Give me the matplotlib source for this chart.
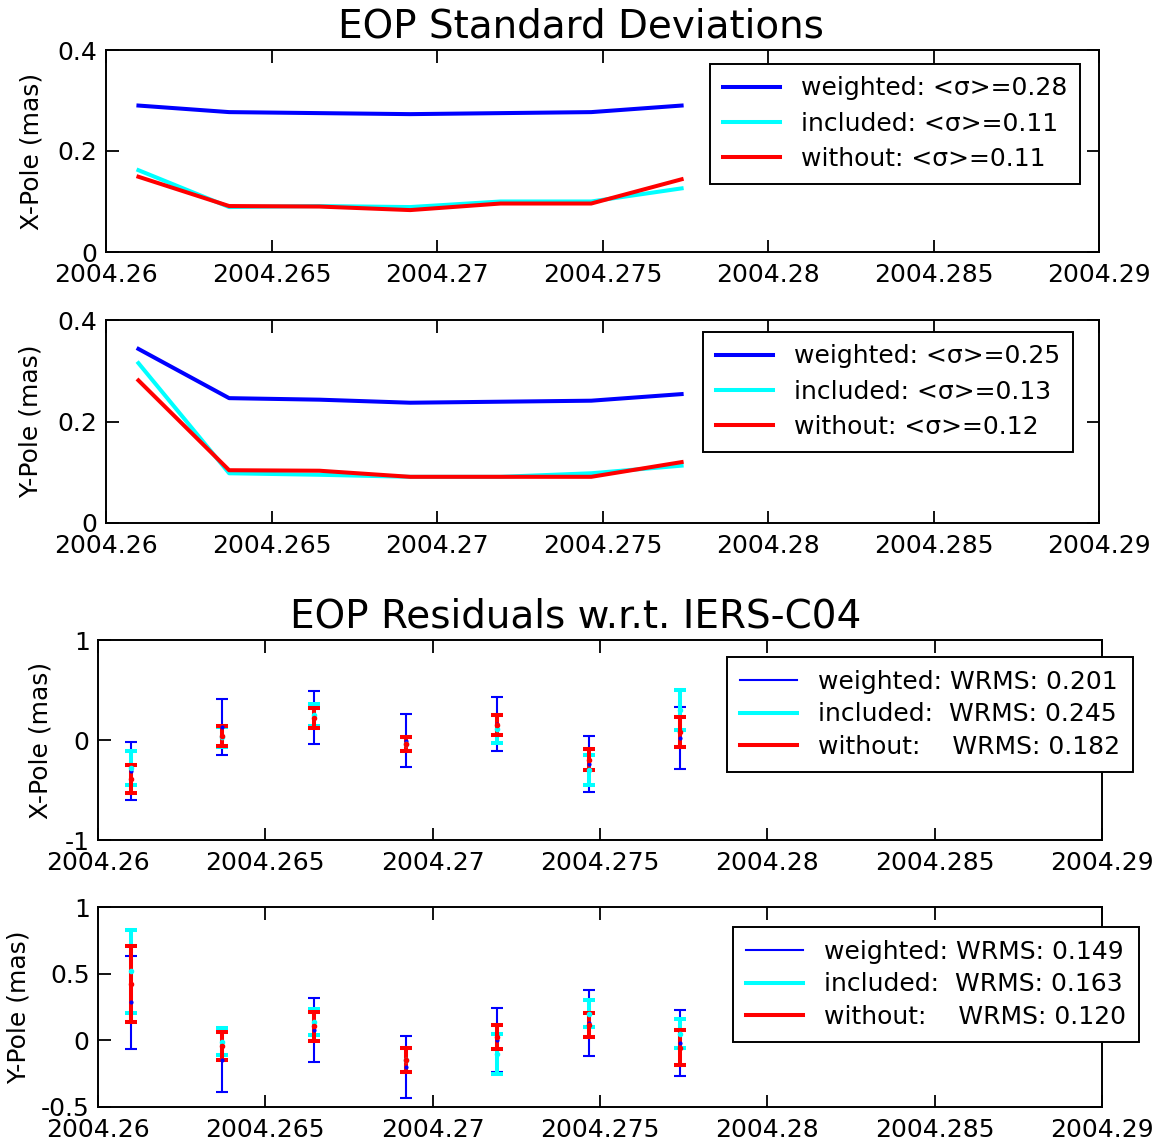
import matplotlib
matplotlib.use("Agg")
import matplotlib.pyplot as plt
from matplotlib.lines import Line2D

plt.rcParams['font.family'] = ['DejaVu Sans']

# ---------------- data ----------------
epochs = [2004.26098, 2004.26372, 2004.26645, 2004.26919, 2004.27192, 2004.27466, 2004.27739]

# standard deviations (mas)
xsig_weighted = [0.290, 0.277, 0.275, 0.273, 0.275, 0.277, 0.290]
xsig_included = [0.162, 0.089, 0.091, 0.089, 0.100, 0.100, 0.126]
xsig_without = [0.149, 0.091, 0.090, 0.083, 0.096, 0.096, 0.144]

ysig_weighted = [0.343, 0.246, 0.243, 0.237, 0.239, 0.241, 0.254]
ysig_included = [0.315, 0.098, 0.095, 0.091, 0.091, 0.098, 0.113]
ysig_without = [0.281, 0.104, 0.103, 0.091, 0.091, 0.091, 0.120]

# residuals w.r.t. IERS-C04 (mas) and their error bars
xres_weighted = [-0.31, 0.13, 0.225, -0.006, 0.163, -0.236, 0.017]
xerr_weighted = [0.29, 0.28, 0.265, 0.265, 0.27, 0.28, 0.31]
xres_included = [-0.28, 0.027, 0.25, -0.04, 0.11, -0.30, 0.30]
xerr_included = [0.166, 0.10, 0.11, 0.07, 0.14, 0.15, 0.20]
xres_without = [-0.39, 0.043, 0.22, -0.04, 0.153, -0.195, 0.076]
xerr_without = [0.14, 0.10, 0.097, 0.07, 0.10, 0.105, 0.15]

yres_weighted = [0.284, -0.15, 0.079, -0.20, 0.0, 0.13, -0.02]
yerr_weighted = [0.346, 0.235, 0.24, 0.235, 0.24, 0.245, 0.25]
yres_included = [0.517, -0.01, 0.138, -0.15, -0.10, 0.20, 0.05]
yerr_included = [0.31, 0.10, 0.10, 0.09, 0.15, 0.10, 0.11]
yres_without = [0.425, -0.04, 0.105, -0.15, 0.025, 0.117, -0.055]
yerr_without = [0.284, 0.106, 0.107, 0.09, 0.09, 0.09, 0.13]

xtick_vals = [2004.26, 2004.265, 2004.27, 2004.275, 2004.28, 2004.285, 2004.29]
xtick_labels = ['2004.26', '2004.265', '2004.27', '2004.275', '2004.28', '2004.285', '2004.29']

sig_labels_x = ['weighted: <σ>=0.28', 'included: <σ>=0.11', 'without: <σ>=0.11']
sig_labels_y = ['weighted: <σ>=0.25', 'included: <σ>=0.13', 'without: <σ>=0.12']
res_labels_x = ['weighted: WRMS: 0.201', 'included:  WRMS: 0.245', 'without:    WRMS: 0.182']
res_labels_y = ['weighted: WRMS: 0.149', 'included:  WRMS: 0.163', 'without:    WRMS: 0.120']

BLUE = (0, 0, 1)
CYAN = (0, 1, 1)
RED = (1, 0, 0)

W, H = 1152, 1144
fig = plt.figure(figsize=(W / 100, H / 100), dpi=100)
FS = 18


def add_ax(left, top, right, bottom):
    return fig.add_axes([left / W, 1 - bottom / H, (right - left) / W, (bottom - top) / H])


def style(ax, ylim, yticks, yticklabels):
    ax.set_xlim(2004.26, 2004.29)
    ax.set_ylim(*ylim)
    ax.set_xticks(xtick_vals)
    ax.set_xticklabels(xtick_labels)
    ax.set_yticks(yticks)
    ax.set_yticklabels(yticklabels)
    ax.tick_params(direction='in', top=True, right=True, length=9, width=1.3,
                   labelsize=FS, colors='black')
    ax.tick_params(axis='x', pad=8)
    ax.tick_params(axis='y', pad=6)
    for s in ax.spines.values():
        s.set_linewidth(1.4)
        s.set_color('black')


def legend(ax, labels, x, y, handles, spacing):
    lg = ax.legend(handles, labels,
                   loc='upper left', bbox_to_anchor=(x / W, 1 - y / H),
                   bbox_transform=fig.transFigure, fontsize=FS, frameon=True,
                   fancybox=False, framealpha=1, edgecolor='black',
                   handlelength=2.3, handletextpad=0.85, labelspacing=spacing,
                   borderpad=0.5, borderaxespad=0)
    lg.get_frame().set_linewidth(1.4)
    return lg


# ---------- panel 1: X-Pole sigma ----------
ax1 = add_ax(106, 50, 1099, 252)
l1 = ax1.plot(epochs, xsig_weighted, color=BLUE, lw=2.9)[0]
l2 = ax1.plot(epochs, xsig_included, color=CYAN, lw=2.9)[0]
l3 = ax1.plot(epochs, xsig_without, color=RED, lw=2.9)[0]
style(ax1, (0, 0.4), [0, 0.2, 0.4], ['0', '0.2', '0.4'])
legend(ax1, sig_labels_x, 710, 64, [l1, l2, l3], 0.45)
fig.text(32 / W, 1 - 151 / H, 'X-Pole (mas)', rotation=90, ha='center', va='center', fontsize=FS)

# ---------- panel 2: Y-Pole sigma ----------
ax2 = add_ax(106, 320, 1099, 523)
m1 = ax2.plot(epochs, ysig_weighted, color=BLUE, lw=2.9)[0]
m2 = ax2.plot(epochs, ysig_included, color=CYAN, lw=2.9)[0]
m3 = ax2.plot(epochs, ysig_without, color=RED, lw=2.9)[0]
style(ax2, (0, 0.4), [0, 0.2, 0.4], ['0', '0.2', '0.4'])
legend(ax2, sig_labels_y, 703, 332, [m1, m2, m3], 0.45)
fig.text(31 / W, 1 - 421 / H, 'Y-Pole (mas)', rotation=90, ha='center', va='center', fontsize=FS)

fig.text(581 / W, 1 - 26 / H, 'EOP Standard Deviations', ha='center', va='center', fontsize=28)


# ---------- residual panels ----------
def res_panel(ax, yb, eb, yi, ei, yw, ew):
    ax.errorbar(epochs, yb, yerr=eb, fmt='.', color=BLUE, ecolor=BLUE,
                elinewidth=1.5, capsize=4, capthick=1.5, markersize=4)
    ax.errorbar(epochs, yi, yerr=ei, fmt='.', color=CYAN, ecolor=CYAN,
                elinewidth=2.9, capsize=4.5, capthick=2.9, markersize=6)
    ax.errorbar(epochs, yw, yerr=ew, fmt='.', color=RED, ecolor=RED,
                elinewidth=2.9, capsize=4.5, capthick=2.9, markersize=6)


def res_handles():
    return [Line2D([], [], color=BLUE, lw=1.5), Line2D([], [], color=CYAN, lw=2.9),
            Line2D([], [], color=RED, lw=2.9)]


ax3 = add_ax(98, 640, 1102, 840)
res_panel(ax3, xres_weighted, xerr_weighted, xres_included, xerr_included,
          xres_without, xerr_without)
style(ax3, (-1, 1), [-1, 0, 1], ['-1', '0', '1'])
legend(ax3, res_labels_x, 727, 657, res_handles(), 0.35)
fig.text(41 / W, 1 - 740 / H, 'X-Pole (mas)', rotation=90, ha='center', va='center', fontsize=FS)

ax4 = add_ax(98, 907, 1102, 1107)
res_panel(ax4, yres_weighted, yerr_weighted, yres_included, yerr_included,
          yres_without, yerr_without)
style(ax4, (-0.5, 1), [-0.5, 0, 0.5, 1], ['-0.5', '0', '0.5', '1'])
legend(ax4, res_labels_y, 733, 927, res_handles(), 0.35)
fig.text(19 / W, 1 - 1007 / H, 'Y-Pole (mas)', rotation=90, ha='center', va='center', fontsize=FS)

fig.text(576 / W, 1 - 617 / H, 'EOP Residuals w.r.t. IERS-C04', ha='center', va='center', fontsize=28)

fig.savefig('out.png', dpi=100)
